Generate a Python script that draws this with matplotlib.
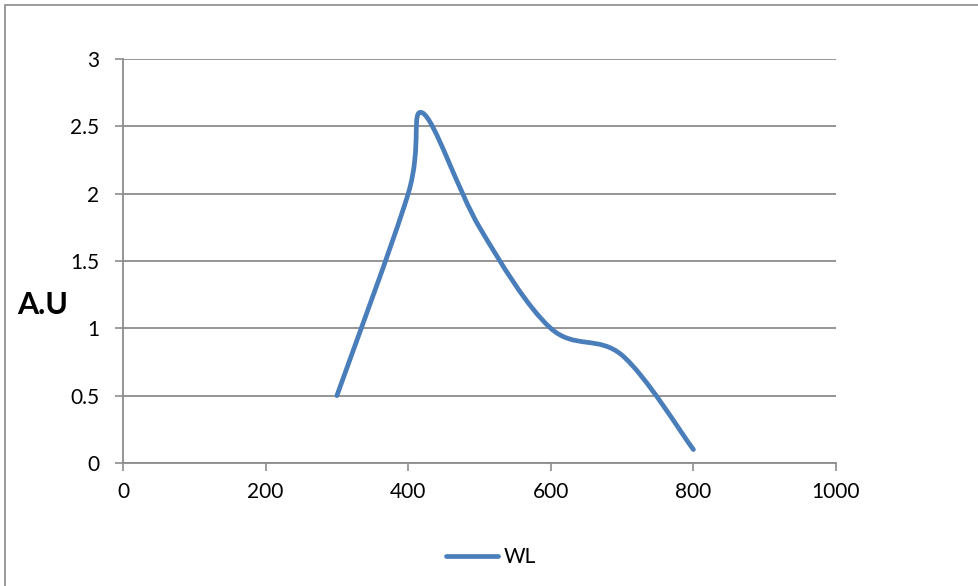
import matplotlib
matplotlib.use("Agg")
import matplotlib.pyplot as plt
import numpy as np
from matplotlib.path import Path
from matplotlib.patches import PathPatch, Rectangle
from matplotlib.lines import Line2D

wavelength = [300, 400, 420, 500, 600, 700, 800]
intensity = [0.5, 2.0, 2.6, 1.75, 1.0, 0.8, 0.1]
x_ticks = [0, 200, 400, 600, 800, 1000]
y_ticks = [0, 0.5, 1, 1.5, 2, 2.5, 3]
y_tick_labels = ['0', '0.5', '1', '1.5', '2', '2.5', '3']
series_name = 'WL'

line_color = '#4A7EBB'
grid_color = '#8C8C8C'
plt.rcParams['font.family'] = ['Lato', 'DejaVu Sans']


def smooth_path(xs, ys):
    # Excel-style smoothed line: cubic bezier with catmull-rom control points
    pts = np.column_stack([xs, ys]).astype(float)
    n = len(pts)
    verts = [pts[0]]
    codes = [Path.MOVETO]
    for i in range(n - 1):
        p0 = pts[i - 1] if i > 0 else pts[i]
        p1 = pts[i]
        p2 = pts[i + 1]
        p3 = pts[i + 2] if i + 2 < n else pts[i + 1]
        c1 = p1 + (p2 - p0) / 6.0
        c2 = p2 - (p3 - p1) / 6.0
        verts += [c1, c2, p2]
        codes += [Path.CURVE4] * 3
    return Path(verts, codes)


fig = plt.figure(figsize=(9.79, 5.86), dpi=100)
ax = fig.add_axes([123 / 979, 1 - 463 / 586, (836 - 123) / 979, (463 - 59) / 586])

fig.patches.append(Rectangle((5 / 979, -0.1), 1.2, 1 - 5 / 586 + 0.1, transform=fig.transFigure,
                             fill=False, edgecolor='#8A8A8A', linewidth=1.2))

ax.add_patch(PathPatch(smooth_path(wavelength, intensity), facecolor='none',
                       edgecolor=line_color, linewidth=3.4, capstyle='round', joinstyle='round', zorder=3))

ax.set_xlim(0, 1000)
ax.set_ylim(0, 3)
ax.set_xticks(x_ticks)
ax.set_yticks(y_ticks)
ax.set_yticklabels(y_tick_labels)
ax.tick_params(axis='both', labelsize=15, color=grid_color, length=6, width=1.2, direction='out')
ax.tick_params(axis='y', pad=11)
ax.tick_params(axis='x', pad=8)
ax.yaxis.grid(True, color=grid_color, linewidth=1.3)
ax.set_axisbelow(True)
for s in ['top', 'right']:
    ax.spines[s].set_visible(False)
for s in ['left', 'bottom']:
    ax.spines[s].set_color(grid_color)
    ax.spines[s].set_linewidth(1.3)

fig.text(17 / 979, 1 - 305 / 586, 'A.U', fontsize=22, fontweight='bold', va='center', ha='left')

handle = Line2D([], [], color=line_color, linewidth=3.4, solid_capstyle='round')
fig.legend([handle], [series_name], loc='center', bbox_to_anchor=(491 / 979, 1 - 557 / 586),
           frameon=False, fontsize=15, handlelength=2.5, handletextpad=0.3)

fig.savefig('out.png', dpi=100)
